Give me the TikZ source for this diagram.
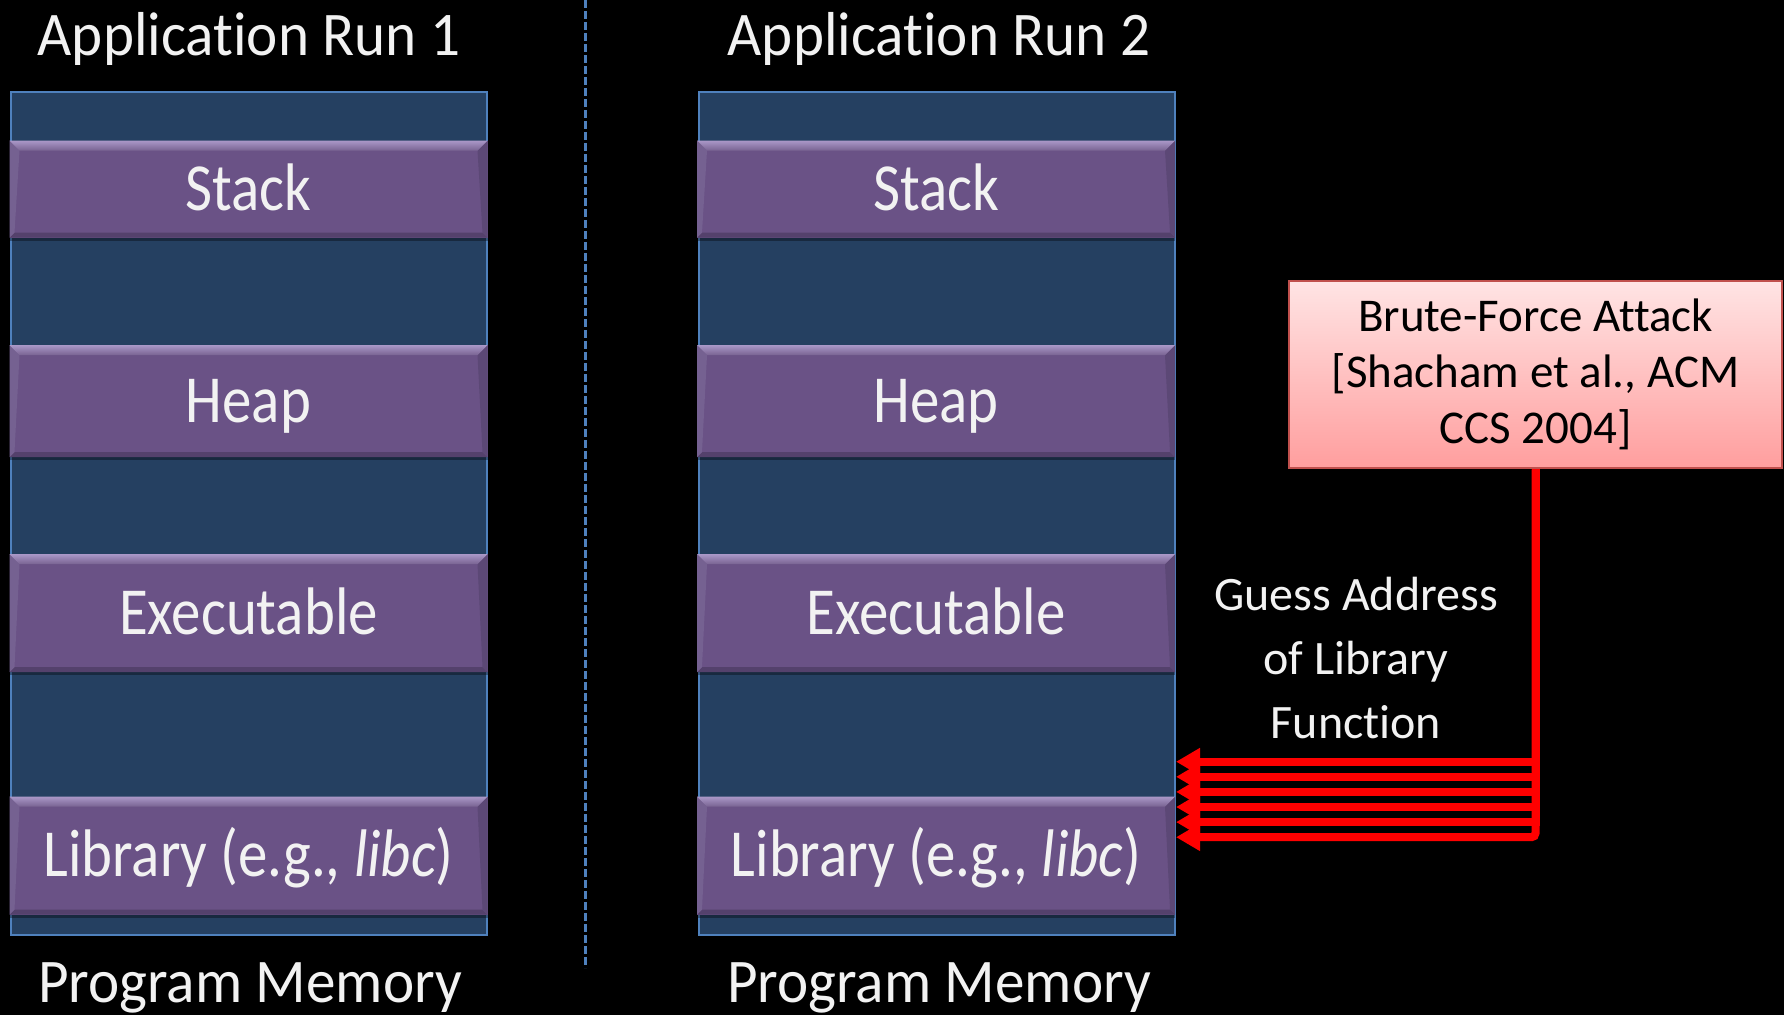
\documentclass[tikz,border=0pt]{standalone}
\usepackage{fontspec}
\setmainfont{Carlito}[Ligatures=NoCommon]
\usetikzlibrary{arrows.meta,shadows}
\definecolor{memblue}{RGB}{37,64,97}
\definecolor{edgeblue}{RGB}{79,129,189}
\definecolor{bandpurple}{RGB}{106,82,134}
\definecolor{bevlight}{RGB}{170,152,200}
\definecolor{bevdark}{RGB}{84,65,108}
\definecolor{bevside}{RGB}{117,97,145}
\definecolor{bevright}{RGB}{92,72,118}
\definecolor{txtwhite}{RGB}{242,242,242}
\definecolor{pinktop}{RGB}{255,228,228}
\definecolor{pinkbot}{RGB}{255,158,158}
\definecolor{pinkedge}{RGB}{192,80,77}
\definecolor{attackred}{RGB}{255,0,0}
\newcommand{\bandlbl}[1]{\scalebox{1.015}[1.16]{#1}}
\newcommand{\titlelbl}[1]{\scalebox{1.02}[1.07]{#1}}
\tikzset{
  memframe/.style={fill=memblue, draw=edgeblue, line width=2pt, inner sep=0pt, outer sep=0pt,
    minimum width=476pt, minimum height=843pt},
  band/.style={fill=bandpurple, inner sep=0pt, outer sep=0pt, minimum width=478pt,
    text=txtwhite, font=\fontsize{58}{70}\selectfont, text height=42pt, text depth=0pt,
    drop shadow={shadow xshift=0pt, shadow yshift=-3pt, opacity=0.35, fill=black},
    path picture={
      \fill[bevdark] (path picture bounding box.south west) -- (path picture bounding box.south east)
        -- ([shift={(-5pt,5pt)}]path picture bounding box.south east)
        -- ([shift={(5pt,5pt)}]path picture bounding box.south west) -- cycle;
      \fill[bevside] (path picture bounding box.north west)
        -- ([shift={(10pt,-10pt)}]path picture bounding box.north west)
        -- ([shift={(5pt,5pt)}]path picture bounding box.south west)
        -- (path picture bounding box.south west) -- cycle;
      \fill[bevright] (path picture bounding box.north east)
        -- (path picture bounding box.south east)
        -- ([shift={(-5pt,5pt)}]path picture bounding box.south east)
        -- ([shift={(-10pt,-10pt)}]path picture bounding box.north east) -- cycle;
      \shade[top color=bevlight, bottom color=bandpurple!90!white]
        (path picture bounding box.north west) -- (path picture bounding box.north east)
        -- ([shift={(-10pt,-10pt)}]path picture bounding box.north east)
        -- ([shift={(10pt,-10pt)}]path picture bounding box.north west) -- cycle;
    }},
  heading/.style={text=txtwhite, font=\fontsize{58}{70}\selectfont, inner sep=0pt, anchor=base},
  bfbox/.style={top color=pinktop, bottom color=pinkbot, draw=pinkedge, line width=2.5pt,
    minimum width=493pt, minimum height=187pt, align=center, text=black,
    font=\fontsize{47}{56}\selectfont, inner sep=0pt},
  guesslbl/.style={text=txtwhite, align=center, font=\fontsize{48}{64}\selectfont, inner sep=0pt},
  redline/.style={draw=attackred, line width=8pt, -{Triangle[length=24pt,width=26pt]}},
  divider/.style={draw=edgeblue, line width=3pt, dash pattern=on 8pt off 3pt}
}
\begin{document}
\begin{tikzpicture}[x=1pt,y=-1pt]
\fill[black] (0,0) rectangle (1784,1015);
\useasboundingbox (0,0) rectangle (1784,1015);

% divider
\coordinate (dtop) at (585,0);
\coordinate (dbot) at (585,968);
\draw[divider] (dtop) -- (dbot);

% titles
\node[heading] (titleA) at (249,55) {\titlelbl{Application Run 1}};
\node[heading] (titleB) at (939,55) {\titlelbl{Application Run 2}};
\node[heading] (pmA) at (250,1002) {\titlelbl{Program Memory}};
\node[heading] (pmB) at (939,1002) {\titlelbl{Program Memory}};

% memory frames
\node[memframe] (memA) at (248.5,513.5) {};
\node[memframe] (memB) at (936.5,513.5) {};

% bands, run 1
\node[band, minimum height=97pt] (stackA) at (248.5,189) {\bandlbl{Stack}};
\node[band, minimum height=112pt] (heapA) at (248.5,401) {\bandlbl{Heap}};
\node[band, minimum height=118pt] (execA) at (248.5,613) {\bandlbl{Executable}};
\node[band, minimum height=118pt] (libA) at (248.5,855.5) {\bandlbl{Library (e.g., \textit{libc})}};

% bands, run 2
\node[band, minimum height=97pt] (stackB) at (936,189) {\bandlbl{Stack}};
\node[band, minimum height=112pt] (heapB) at (936,401) {\bandlbl{Heap}};
\node[band, minimum height=118pt] (execB) at (936,613) {\bandlbl{Executable}};
\node[band, minimum height=118pt] (libB) at (936,855.5) {\bandlbl{Library (e.g., \textit{libc})}};

% brute force box
\node[bfbox] (bf) at (1535.5,374.5) {Brute-Force Attack\\{[}Shacham et al., ACM\\CCS 2004{]}};

% guess label
\node[guesslbl] (guess) at (1356,658) {Guess Address\\of Library\\Function};

% arrows
\foreach \k in {0,...,5} {
  \coordinate (g\k) at (1176,{761.7+15.1*\k});
}
\foreach \k in {0,...,4} {
  \draw[redline] (bf.south) |- (g\k);
}
\draw[redline, rounded corners=4pt] (bf.south) |- (g5);
\end{tikzpicture}
\end{document}
